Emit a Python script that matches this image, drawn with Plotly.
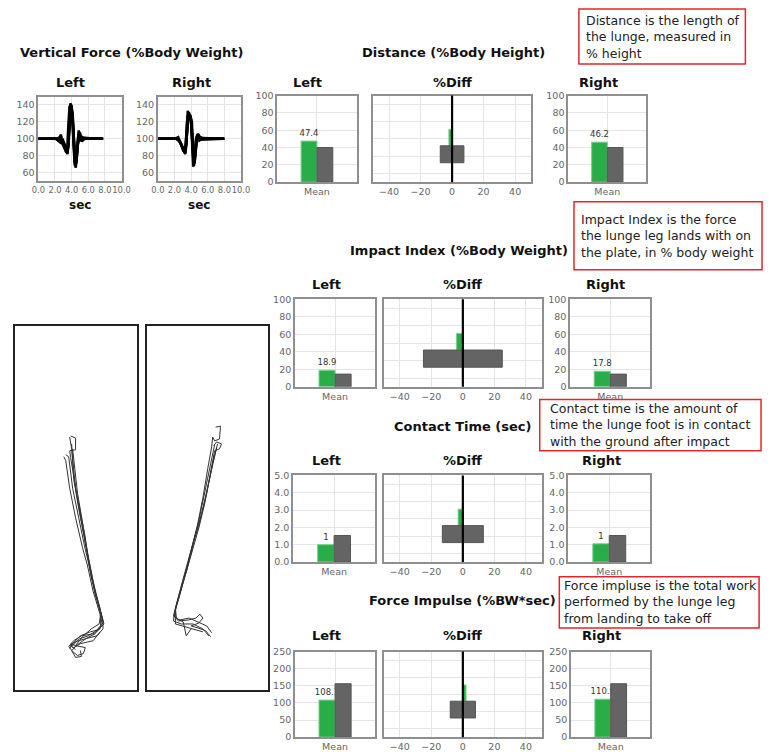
import plotly.graph_objects as go

W, H = 772, 752

# ---------------- DATA ----------------
# Vertical force trials (time in s, force in %Body Weight)
force_left_time = [
    [0, 2.1, 2.4, 2.7, 2.9, 3.2, 3.5, 3.65, 3.75, 3.85, 4.0, 4.1, 4.25, 4.4, 4.55, 4.7, 4.85, 5.0, 5.3, 5.6, 7.8],
    [0, 2.2, 2.5, 2.7, 3.0, 3.3, 3.45, 3.6, 3.75, 3.95, 4.1, 4.2, 4.35, 4.5, 4.65, 4.8, 5.0, 5.2, 5.5, 7.7],
    [0, 2.3, 2.6, 2.9, 3.1, 3.35, 3.55, 3.7, 3.85, 4.0, 4.15, 4.3, 4.45, 4.6, 4.75, 4.95, 5.2, 5.5, 7.6],
    [0, 2.0, 2.4, 2.75, 3.05, 3.3, 3.5, 3.7, 3.9, 4.05, 4.2, 4.35, 4.5, 4.7, 4.9, 5.15, 5.4, 7.8],
    [0, 2.4, 2.65, 2.9, 3.15, 3.4, 3.6, 3.8, 3.95, 4.1, 4.25, 4.4, 4.55, 4.75, 5.0, 5.3, 5.6, 7.7],
]
force_left_bw = [
    [100, 100, 98, 105, 96, 90, 82, 100, 130, 142, 138, 120, 90, 68, 75, 100, 110, 98, 102, 100, 100],
    [100, 100, 97, 103, 93, 86, 84, 115, 139, 136, 128, 100, 72, 66, 82, 104, 107, 97, 101, 100],
    [100, 100, 99, 95, 92, 88, 86, 120, 136, 134, 125, 88, 70, 74, 96, 108, 99, 101, 100],
    [100, 100, 101, 97, 91, 85, 83, 110, 135, 133, 112, 80, 69, 90, 106, 99, 101, 100],
    [100, 100, 96, 100, 94, 87, 90, 128, 140, 131, 105, 74, 71, 93, 104, 98, 100, 100],
]
force_right_time = [
    [0, 2.0, 2.45, 2.7, 3.0, 3.3, 3.45, 3.6, 3.75, 3.95, 4.05, 4.15, 4.25, 4.4, 4.6, 4.8, 5.0, 5.4, 8.0],
    [0, 2.2, 2.5, 2.8, 3.05, 3.3, 3.5, 3.65, 3.85, 4.0, 4.12, 4.25, 4.35, 4.5, 4.7, 4.9, 5.2, 7.9],
    [0, 2.3, 2.6, 2.9, 3.15, 3.35, 3.55, 3.7, 3.9, 4.1, 4.2, 4.3, 4.45, 4.65, 4.85, 5.05, 5.4, 8.0],
    [0, 2.1, 2.4, 2.75, 3.0, 3.25, 3.4, 3.55, 3.75, 3.95, 4.08, 4.2, 4.3, 4.45, 4.6, 4.8, 5.1, 7.9],
    [0, 2.4, 2.7, 3.0, 3.2, 3.4, 3.6, 3.8, 4.0, 4.15, 4.3, 4.4, 4.55, 4.75, 5.0, 5.5, 8.0],
]
force_right_bw = [
    [100, 100, 102, 96, 88, 82, 95, 133, 129, 127, 110, 80, 67, 78, 100, 106, 98, 101, 100],
    [100, 100, 98, 94, 86, 84, 118, 130, 126, 124, 100, 72, 68, 82, 103, 104, 99, 100],
    [100, 100, 97, 91, 85, 89, 112, 127, 125, 120, 92, 70, 74, 95, 106, 100, 100, 100],
    [100, 100, 100, 95, 89, 83, 100, 125, 131, 125, 108, 76, 68, 85, 99, 105, 100, 100],
    [100, 100, 96, 89, 86, 92, 120, 128, 122, 105, 78, 71, 88, 102, 103, 100, 100],
]

# Foot path traces on the plate (plate units)
foot_left_x = [
    [65, 70, 70, 64, 65, 72, 79, 83, 88, 94, 98, 98, 92, 80, 70, 64, 68, 75, 88, 95],
    [64, 66, 70, 77, 82, 86, 93, 97, 95, 88, 76, 68, 63, 67, 72, 78, 80, 70],
    [58, 60, 64, 70, 77, 82, 88, 95, 96, 90, 82, 72, 66, 70, 76, 75],
    [60, 63, 67, 73, 79, 83, 90, 97, 99, 93, 85, 75, 67, 64],
    [66, 68, 74, 80, 84, 91, 96, 94, 86, 77, 70, 65],
    [67, 72, 78, 83, 89, 95, 98, 91, 83, 74, 66, 70],
]
foot_left_y = [
    [437, 439, 451, 452, 459, 500, 535, 560, 585, 610, 625, 633, 640, 643, 646, 650, 652, 648, 645, 636],
    [438, 450, 490, 530, 555, 580, 607, 622, 633, 638, 640, 645, 651, 656, 660, 658, 652, 650],
    [458, 462, 490, 520, 550, 568, 595, 618, 630, 638, 642, 649, 655, 662, 661, 655],
    [456, 458, 490, 520, 548, 565, 598, 620, 628, 634, 636, 640, 648, 653],
    [445, 480, 515, 545, 565, 600, 618, 628, 633, 641, 650, 648],
    [450, 495, 530, 562, 592, 612, 627, 635, 640, 643, 651, 654],
]
foot_right_x = [
    [213, 218, 217, 212, 210, 209, 205, 200, 195, 190, 184, 178, 173, 171, 175, 185, 193, 197, 200, 196, 188, 195, 203, 208],
    [211, 214, 219, 217, 212, 207, 202, 196, 191, 185, 180, 175, 171, 170, 178, 190, 200, 206],
    [215, 210, 204, 199, 193, 189, 186, 181, 176, 172, 173, 180, 183, 188],
    [214, 208, 203, 196, 192, 189, 184, 178, 174, 170, 176, 186, 195, 204, 209],
    [212, 206, 200, 194, 190, 186, 181, 176, 172, 172, 179, 190, 200],
]
foot_right_y = [
    [428, 427, 440, 442, 438, 448, 470, 500, 525, 545, 570, 590, 608, 620, 625, 624, 622, 618, 622, 627, 630, 632, 635, 641],
    [447, 443, 445, 450, 452, 480, 505, 530, 548, 568, 585, 603, 615, 625, 628, 628, 633, 640],
    [445, 465, 495, 515, 535, 548, 560, 578, 598, 612, 622, 626, 640, 633],
    [449, 475, 500, 528, 540, 552, 572, 592, 607, 620, 624, 622, 626, 630, 637],
    [446, 474, 505, 532, 546, 562, 582, 600, 614, 628, 630, 633, 636],
]

# Metric summaries
metric_titles = ["Distance (%Body Height)", "Impact Index (%Body Weight)",
                 "Contact Time (sec)", "Force Impulse (%BW*sec)"]
category = ["Mean"]
left_mean = [47.4, 18.9, 1.0, 108.1]
left_norm = [40, 14.5, 1.53, 156]
right_mean = [46.2, 17.8, 1.05, 110.9]
right_norm = [40, 14.5, 1.53, 156]
left_label = ["47.4", "18.9", "1", "108.1"]
right_label = ["46.2", "17.8", "1", "110.9"]
diff_pct = [-2, -4, -3, 2]
diff_norm_low = [-7.5, -25, -13, -8]
diff_norm_high = [7.5, 25, 13, 8]
y_max = [100, 100, 5, 250]
y_dtick = [20, 20, 1, 50]
y_fmt = ["d", "d", ".1f", "d"]
diff_ticks = [-40, -20, 0, 20, 40]
force_ticks_x = [0, 2, 4, 6, 8, 10]
force_ticks_y = [60, 80, 100, 120, 140]

notes = [
    "Distance is the length of<br>the lunge, measured in<br>% height",
    "Impact Index is the force<br>the lunge leg lands with on<br>the plate, in % body weight",
    "Contact time is the amount of<br>time the lunge foot is in contact<br>with the ground after impact",
    "Force impluse is the total work<br>performed by the lunge leg<br>from landing to take off",
]

# ---------------- STYLE / LAYOUT ----------------
GREEN = "#29ad48"
GREEN_EDGE = "#7ccf8e"
GRAY = "#646464"
FONT = "DejaVu Sans"

fig = go.Figure()
layout = dict(width=W, height=H, margin=dict(l=0, r=0, t=0, b=0),
              paper_bgcolor="white", plot_bgcolor="white", showlegend=False,
              barmode="group", bargap=0.6, bargroupgap=0,
              font=dict(family=FONT, size=10, color="#666"))
annotations = []
shapes = []


def xd(a, b):
    return [a / W, b / W]


def yd(t, b):
    return [1 - b / H, 1 - t / H]


def ids(n):
    if n == 1:
        return "x", "y", "xaxis", "yaxis"
    return f"x{n}", f"y{n}", f"xaxis{n}", f"yaxis{n}"


def title(text, x, y, size=13):
    annotations.append(dict(text=f"<b>{text}</b>", x=x / W, y=1 - y / H, xref="paper", yref="paper",
                            showarrow=False, xanchor="center", yanchor="middle",
                            font=dict(family=FONT, size=size, color="#111")))


axis_base = dict(showline=True, mirror=True, linecolor="#8f8f8f", linewidth=1.5,
                 gridcolor="#e4e4e4", gridwidth=1, zeroline=False,
                 tickfont=dict(family=FONT, size=9.5, color="#666"), ticks="", fixedrange=True)

n = 0
# ---- vertical force panels ----
title("Vertical Force (%Body Weight)", 127, 47)
for side, (x0, x1), times, forces, cx in [
        ("Left", (32, 117), force_left_time, force_left_bw, 65),
        ("Right", (154, 239), force_right_time, force_right_bw, 188)]:
    n += 1
    xa, ya, xk, yk = ids(n)
    for t, f in zip(times, forces):
        fig.add_trace(go.Scatter(x=t, y=f, mode="lines", line=dict(color="black", width=2.5),
                                 xaxis=xa, yaxis=ya, hoverinfo="skip"))
    layout[xk] = dict(axis_base, domain=xd(x0, x1), anchor=ya, range=[0, 10],
                      tickvals=force_ticks_x, tickformat=".1f", tickangle=0,
                      tickfont=dict(family=FONT, size=8.3, color="#666"))
    layout[yk] = dict(axis_base, domain=yd(92, 178), anchor=xa, range=[50, 150],
                      tickvals=force_ticks_y)
    title(side, cx, 78)
    title("sec", (x0 + x1) / 2, 202, size=12)

# ---- metric panels ----
sections = [
    dict(L=(276, 357), D=(374, 535), R=(573, 653), top=91, bot=179, ty=47, tx=456, sy=78,
         sx=(307, 455, 604)),
    dict(L=(294, 376), D=(385, 546), R=(575, 657), top=298, bot=387, ty=248, tx=462, sy=283,
         sx=(326, 465, 611)),
    dict(L=(292, 376), D=(385, 546), R=(573, 657), top=477, bot=565, ty=427, tx=466, sy=462,
         sx=(326, 465, 607)),
    dict(L=(294, 376), D=(385, 546), R=(576, 657), top=656, bot=743, ty=604, tx=465, sy=640,
         sx=(326, 465, 607)),
]

for s, g in enumerate(sections):
    title(metric_titles[s], g["tx"], g["ty"])
    for lab, cx in zip(["Left", "%Diff", "Right"], g["sx"]):
        title(lab, cx, g["sy"])
    # Left and right mean bars
    for key, mean, norm, lab in [("L", left_mean[s], left_norm[s], left_label[s]),
                                 ("R", right_mean[s], right_norm[s], right_label[s])]:
        n += 1
        xa, ya, xk, yk = ids(n)
        fig.add_trace(go.Bar(x=category, y=[mean], text=[lab], textposition="outside",
                             constraintext="none", cliponaxis=False,
                             textfont=dict(family=FONT, size=8.5, color="#333"),
                             marker=dict(color=GREEN, line=dict(color=GREEN_EDGE, width=1)),
                             xaxis=xa, yaxis=ya, hoverinfo="skip"))
        fig.add_trace(go.Bar(x=category, y=[norm],
                             marker=dict(color=GRAY, line=dict(color="#555", width=1)),
                             xaxis=xa, yaxis=ya, hoverinfo="skip"))
        x0, x1 = g[key]
        layout[xk] = dict(axis_base, domain=xd(x0, x1), anchor=ya, type="category", showgrid=True)
        layout[yk] = dict(axis_base, domain=yd(g["top"], g["bot"]), anchor=xa,
                          range=[0, y_max[s]], dtick=y_dtick[s], tickformat=y_fmt[s])
    # %Diff panel
    n += 1
    xa, ya, xk, yk = ids(n)
    fig.add_trace(go.Bar(orientation="h", y=[0], x=[diff_pct[s]], offset=-0.4, width=0.95,
                         marker=dict(color=GREEN, line=dict(color=GREEN_EDGE, width=1)),
                         xaxis=xa, yaxis=ya, hoverinfo="skip"))
    fig.add_trace(go.Bar(orientation="h", y=[0], base=[diff_norm_low[s]],
                         x=[diff_norm_high[s] - diff_norm_low[s]], offset=-1.38, width=0.98,
                         marker=dict(color=GRAY, line=dict(color="#555", width=1)),
                         xaxis=xa, yaxis=ya, hoverinfo="skip"))
    x0, x1 = g["D"]
    layout[xk] = dict(axis_base, domain=xd(x0, x1), anchor=ya, range=[-50, 50],
                      tickvals=diff_ticks)
    layout[yk] = dict(axis_base, domain=yd(g["top"], g["bot"]), anchor=xa,
                      range=[-2.5, 2.5], dtick=1, showticklabels=False)
    shapes.append(dict(type="line", xref=xa, yref=f"{ya} domain", x0=0, x1=0, y0=0, y1=1,
                       line=dict(color="black", width=2.2), layer="above"))

# ---- foot path panels ----
for (x0, x1), xs, ys in [((8, 133), foot_left_x, foot_left_y),
                         ((143, 267), foot_right_x, foot_right_y)]:
    n += 1
    xa, ya, xk, yk = ids(n)
    for fx, fy in zip(xs, ys):
        fig.add_trace(go.Scatter(x=fx, y=fy, mode="lines", line=dict(color="#333", width=1),
                                 xaxis=xa, yaxis=ya, hoverinfo="skip"))
    layout[xk] = dict(domain=xd(x0, x1), anchor=ya, range=[x0, x1], showline=True, mirror=True,
                      linecolor="#222", linewidth=2, showgrid=False, zeroline=False,
                      showticklabels=False, ticks="", fixedrange=True)
    layout[yk] = dict(domain=yd(325, 695), anchor=xa, range=[695, 325], showline=True, mirror=True,
                      linecolor="#222", linewidth=2, showgrid=False, zeroline=False,
                      showticklabels=False, ticks="", fixedrange=True)

# ---- note boxes (red bordered rectangles with text) ----
note_boxes = [(584, 754, 3, 59), (579, 771, 199, 268), (544, 770, 400, 452), (564, 768, 580, 632)]
note_text_left = [589, 584, 552, 567]
for text, (bx0, bx1, by0, by1), tx in zip(notes, note_boxes, note_text_left):
    shapes.append(dict(type="rect", xref="paper", yref="paper", x0=bx0 / W, x1=bx1 / W,
                       y0=1 - by1 / H, y1=1 - by0 / H, line=dict(color="#e0262e", width=1.5),
                       fillcolor="white", layer="above"))
    annotations.append(dict(text=text, x=tx / W, y=1 - (by0 + by1) / 2 / H, xref="paper", yref="paper",
                            xanchor="left", yanchor="middle", align="left", showarrow=False,
                            font=dict(family=FONT, size=12.5, color="#222")))

layout["annotations"] = annotations
layout["shapes"] = shapes
fig.update_layout(**layout)
fig.write_html("out.html", post_script="document.body.style.margin='0px';",
               config={"displayModeBar": False})
